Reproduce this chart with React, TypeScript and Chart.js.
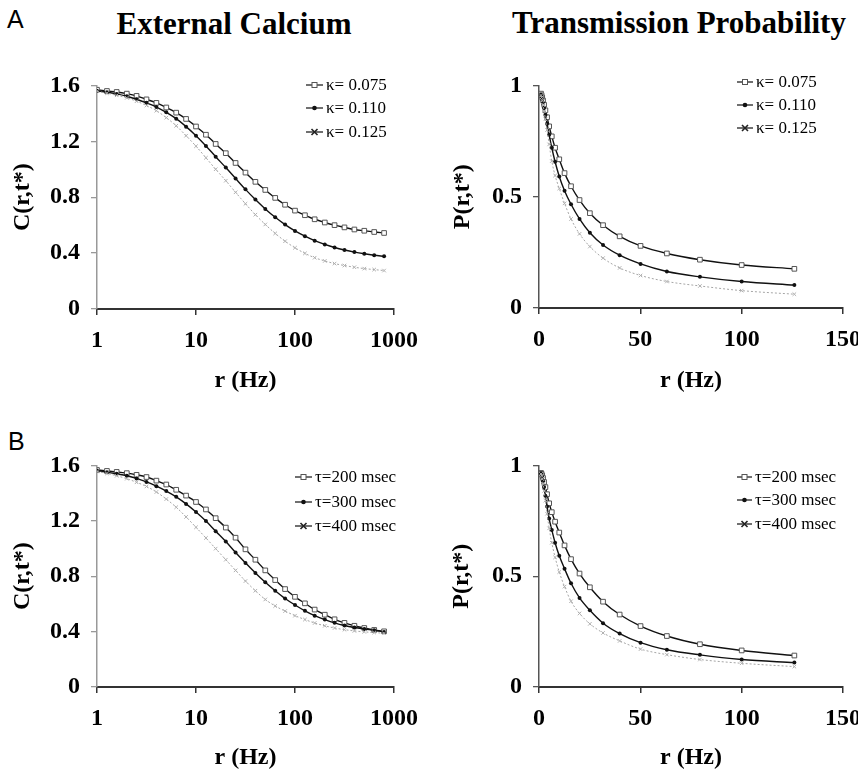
import React, { useEffect, useRef } from 'react';
import { Chart, registerables } from 'chart.js';

Chart.register(...registerables);

// ---------------- data ----------------
const rLog = [1, 1.26, 1.58, 2, 2.51, 3.16, 3.98, 5.01, 6.31, 7.94, 10, 12.6, 15.8, 20, 25.1, 31.6, 39.8, 50.1, 63.1, 79.4, 100, 126, 158, 200, 251, 316, 398, 501, 631, 794];
const rLin = [1, 1.26, 1.58, 2, 2.51, 3.16, 3.98, 5.01, 6.31, 7.94, 10, 12.6, 15.8, 20, 25.1, 31.6, 39.8, 50.1, 63.1, 79.4, 100, 126];

const calcKappa075 = [1.569, 1.560, 1.553, 1.541, 1.525, 1.500, 1.475, 1.442, 1.405, 1.360, 1.306, 1.247, 1.181, 1.115, 1.045, 0.976, 0.910, 0.852, 0.795, 0.746, 0.704, 0.671, 0.642, 0.619, 0.600, 0.584, 0.569, 0.560, 0.551, 0.544];
const calcKappa110 = [1.562, 1.551, 1.539, 1.522, 1.501, 1.475, 1.445, 1.407, 1.362, 1.305, 1.240, 1.167, 1.090, 1.012, 0.934, 0.856, 0.783, 0.716, 0.656, 0.604, 0.559, 0.521, 0.489, 0.462, 0.440, 0.422, 0.407, 0.395, 0.385, 0.377];
const calcKappa125 = [1.558, 1.544, 1.529, 1.511, 1.487, 1.456, 1.419, 1.369, 1.311, 1.240, 1.165, 1.082, 1.000, 0.918, 0.835, 0.753, 0.675, 0.605, 0.541, 0.485, 0.438, 0.398, 0.367, 0.344, 0.325, 0.311, 0.299, 0.289, 0.282, 0.275];

const probKappa075 = [0.963, 0.956, 0.946, 0.932, 0.913, 0.888, 0.857, 0.816, 0.771, 0.720, 0.668, 0.606, 0.547, 0.485, 0.426, 0.372, 0.322, 0.279, 0.245, 0.217, 0.193, 0.176];
const probKappa110 = [0.958, 0.950, 0.938, 0.921, 0.898, 0.867, 0.828, 0.778, 0.720, 0.657, 0.591, 0.527, 0.466, 0.400, 0.338, 0.283, 0.237, 0.198, 0.164, 0.140, 0.119, 0.103];
const probKappa125 = [0.955, 0.946, 0.932, 0.912, 0.885, 0.848, 0.800, 0.735, 0.660, 0.595, 0.537, 0.470, 0.400, 0.333, 0.276, 0.224, 0.180, 0.146, 0.119, 0.099, 0.078, 0.062];

const calcTau200 = [1.567, 1.560, 1.553, 1.544, 1.532, 1.516, 1.490, 1.462, 1.424, 1.382, 1.336, 1.282, 1.219, 1.151, 1.078, 0.994, 0.919, 0.842, 0.772, 0.707, 0.651, 0.604, 0.559, 0.522, 0.489, 0.463, 0.442, 0.426, 0.412, 0.402];
const calcTau300 = [1.563, 1.551, 1.539, 1.525, 1.506, 1.481, 1.450, 1.415, 1.373, 1.322, 1.263, 1.198, 1.125, 1.050, 0.971, 0.896, 0.823, 0.756, 0.695, 0.639, 0.592, 0.550, 0.515, 0.487, 0.463, 0.444, 0.430, 0.419, 0.409, 0.398];
const calcTau400 = [1.556, 1.542, 1.525, 1.504, 1.478, 1.448, 1.408, 1.357, 1.298, 1.228, 1.153, 1.076, 0.999, 0.919, 0.842, 0.765, 0.695, 0.632, 0.585, 0.548, 0.515, 0.487, 0.462, 0.442, 0.426, 0.414, 0.405, 0.398, 0.393, 0.388];

const probTau200 = [0.966, 0.962, 0.955, 0.943, 0.925, 0.902, 0.870, 0.829, 0.789, 0.746, 0.697, 0.639, 0.577, 0.512, 0.450, 0.385, 0.327, 0.275, 0.230, 0.193, 0.165, 0.142];
const probTau300 = [0.963, 0.958, 0.946, 0.928, 0.902, 0.863, 0.814, 0.760, 0.709, 0.651, 0.592, 0.534, 0.468, 0.402, 0.346, 0.288, 0.241, 0.200, 0.168, 0.145, 0.124, 0.110];
const probTau400 = [0.961, 0.953, 0.939, 0.917, 0.885, 0.841, 0.782, 0.716, 0.651, 0.585, 0.519, 0.453, 0.387, 0.332, 0.285, 0.244, 0.208, 0.171, 0.146, 0.124, 0.107, 0.092];

const legendKappa = ['\u03BA= 0.075', '\u03BA= 0.110', '\u03BA= 0.125'];
const legendTau = ['\u03C4=200 msec', '\u03C4=300 msec', '\u03C4=400 msec'];

const xLogTicks = [1, 10, 100, 1000];
const xLogTickLabels = ['1', '10', '100', '1000'];
const xLinTicks = [0, 50, 100, 150];
const xLinTickLabels = ['0', '50', '100', '150'];
const yCalcTicks = [0, 0.4, 0.8, 1.2, 1.6];
const yCalcTickLabels = ['0', '0.4', '0.8', '1.2', '1.6'];
const yProbTicks = [0, 0.5, 1];
const yProbTickLabels = ['0', '0.5', '1'];

// ---------------- styles ----------------
const SERIF = "'Liberation Serif', 'Times New Roman', Times, serif";

const seriesStyles = [
  { borderColor: '#111', borderWidth: 1.4, borderDash: [] as number[], pointStyle: 'rect', pointRadius: 3.3, pointBackgroundColor: '#fff', pointBorderColor: '#555', pointBorderWidth: 1 },
  { borderColor: '#111', borderWidth: 1.4, borderDash: [] as number[], pointStyle: 'circle', pointRadius: 2, pointBackgroundColor: '#111', pointBorderColor: '#111', pointBorderWidth: 0 },
  { borderColor: '#a5a5a5', borderWidth: 1, borderDash: [2, 2], pointStyle: 'crossRot', pointRadius: 2.5, pointBackgroundColor: '#aaa', pointBorderColor: '#b0b0b0', pointBorderWidth: 1 },
];

type PanelProps = {
  left: number; top: number; width: number; height: number;
  plotL: number; plotT: number; plotR: number; plotB: number;
  logX: boolean;
  xs: number[];
  series: number[][];
  labels: string[];
  xTicks: number[]; xTickLabels: string[]; xMin: number; xMax: number;
  yTicks: number[]; yTickLabels: string[]; yMax: number;
  yTitle: string;
  yTitleX: number;
  xTitleY: number;
  legendX: number; legendYs: number[]; legendLen: number;
  yAxisColor: string;
};

function Panel(p: PanelProps) {
  const ref = useRef<HTMLCanvasElement | null>(null);
  useEffect(() => {
    let chart: Chart | null = null;
    let cancelled = false;

    const legendPlugin = {
      id: 'lineLegend',
      afterDraw(c: any) {
        const ctx = c.ctx as CanvasRenderingContext2D;
        ctx.save();
        p.labels.forEach((label, i) => {
          const x = p.legendX - p.left;
          const y = p.legendYs[i] - p.top;
          ctx.setLineDash([]);
          ctx.strokeStyle = '#222';
          ctx.lineWidth = 1.3;
          ctx.beginPath();
          ctx.moveTo(x, y);
          ctx.lineTo(x + p.legendLen, y);
          ctx.stroke();
          const cx = x + p.legendLen / 2;
          if (i === 0) {
            ctx.fillStyle = '#fff';
            ctx.strokeStyle = '#555';
            ctx.lineWidth = 1;
            ctx.fillRect(cx - 2.5, y - 2.5, 5, 5);
            ctx.strokeRect(cx - 2.5, y - 2.5, 5, 5);
          } else if (i === 1) {
            ctx.fillStyle = '#111';
            ctx.beginPath();
            ctx.arc(cx, y, 2.3, 0, Math.PI * 2);
            ctx.fill();
          } else {
            ctx.strokeStyle = '#222';
            ctx.lineWidth = 1.6;
            ctx.beginPath();
            ctx.moveTo(cx - 3, y - 3); ctx.lineTo(cx + 3, y + 3);
            ctx.moveTo(cx - 3, y + 3); ctx.lineTo(cx + 3, y - 3);
            ctx.stroke();
          }
          ctx.fillStyle = '#000';
          ctx.font = `17px ${SERIF}`;
          ctx.textAlign = 'left';
          ctx.textBaseline = 'middle';
          ctx.fillText(label, x + p.legendLen + 3, y + 1);
        });
        ctx.restore();
      },
    };

    const tickFont = { family: SERIF, size: 24, weight: 'bold' as const, lineHeight: 1.2 };
    const titleFont = { family: SERIF, size: 24, weight: 'bold' as const, lineHeight: 1 };

    const make = () => {
      if (cancelled || !ref.current || chart) return;
      chart = new Chart(ref.current, {
        type: 'line',
        data: {
          datasets: p.series.map((vals, si) => ({
            label: p.labels[si],
            data: p.xs.map((x, i) => ({ x, y: vals[i] })),
            ...seriesStyles[si],
            fill: false,
            tension: 0,
            cubicInterpolationMode: 'monotone' as const,
            order: 3 - si,
          })) as any,
        },
        options: {
          animation: false,
          responsive: false,
          maintainAspectRatio: false,
          layout: { padding: { left: 0, top: p.plotT - p.top, right: p.left + p.width - p.plotR, bottom: 0 } },
          plugins: { legend: { display: false }, tooltip: { enabled: false } },
          scales: {
            x: {
              type: p.logX ? 'logarithmic' : 'linear',
              min: p.xMin,
              max: p.xMax,
              afterBuildTicks: (s: any) => { s.ticks = p.xTicks.map((v) => ({ value: v })); },
              afterFit: (s: any) => { s.height = p.top + p.height - p.plotB; },
              ticks: {
                autoSkip: false,
                maxRotation: 0,
                padding: 11,
                color: '#000',
                font: tickFont,
                callback: (v: any) => { const k = p.xTicks.indexOf(Number(v)); return k >= 0 ? p.xTickLabels[k] : ''; },
              },
              grid: { display: true, drawOnChartArea: false, drawTicks: true, tickLength: 6, color: '#333', lineWidth: 1.5 },
              border: { display: true, color: '#333', width: 2 },
              title: { display: true, text: 'r (Hz)', color: '#000', font: titleFont, padding: { top: 0, bottom: p.top + p.height - p.xTitleY - 12 } },
            } as any,
            y: {
              type: 'linear',
              min: 0,
              max: p.yMax,
              afterBuildTicks: (s: any) => { s.ticks = p.yTicks.map((v) => ({ value: v })); },
              afterFit: (s: any) => { s.width = p.plotL - p.left; },
              ticks: {
                padding: 11,
                color: '#000',
                font: tickFont,
                callback: (v: any) => { const k = p.yTicks.indexOf(Number(v)); return k >= 0 ? p.yTickLabels[k] : ''; },
              },
              grid: { display: true, drawOnChartArea: false, drawTicks: true, tickLength: 6, color: p.yAxisColor, lineWidth: 1.3 },
              border: { display: true, color: p.yAxisColor, width: 1.5 },
              title: { display: true, text: p.yTitle, color: '#000', font: titleFont, padding: { top: p.yTitleX - p.left - 12, bottom: 0 } },
            } as any,
          },
        },
        plugins: [legendPlugin],
      });
    };

    const fonts: any = (document as any).fonts;
    if (fonts && fonts.load) {
      Promise.all([
        fonts.load(`bold 24px 'Liberation Serif'`),
        fonts.load(`17px 'Liberation Serif'`),
      ]).then(make, make);
    } else {
      make();
    }
    return () => {
      cancelled = true;
      if (chart) chart.destroy();
    };
  }, []);
  return (
    <canvas
      ref={ref}
      width={p.width}
      height={p.height}
      style={{ position: 'absolute', left: p.left, top: p.top, width: p.width, height: p.height }}
    />
  );
}

const labelStyle: React.CSSProperties = {
  position: 'absolute',
  fontFamily: "'Liberation Sans', Arial, sans-serif",
  fontSize: 25,
  lineHeight: '25px',
  color: '#000',
};

const titleStyle: React.CSSProperties = {
  position: 'absolute',
  width: 600,
  textAlign: 'center',
  whiteSpace: 'nowrap',
  fontFamily: SERIF,
  fontWeight: 'bold',
  fontSize: 31,
  lineHeight: '31px',
  color: '#000',
};

export default function App() {
  return (
    <div style={{ position: 'absolute', left: 0, top: 0, width: 858, height: 773, overflow: 'hidden', background: '#fff' }}>
      <div style={{ ...labelStyle, left: 7, top: 7 }}>A</div>
      <div style={{ ...labelStyle, left: 8, top: 429 }}>B</div>
      <div style={{ ...titleStyle, left: 234 - 300, top: 8 }}>External Calcium</div>
      <div style={{ ...titleStyle, left: 679 - 300, top: 7 }}>Transmission Probability</div>

      <Panel
        left={0} top={60} width={429} height={340}
        plotL={97} plotT={81} plotR={394} plotB={309}
        logX={true} xs={rLog}
        series={[calcKappa075, calcKappa110, calcKappa125]} labels={legendKappa}
        xTicks={xLogTicks} xTickLabels={xLogTickLabels} xMin={1} xMax={1000}
        yTicks={yCalcTicks} yTickLabels={yCalcTickLabels} yMax={1.6}
        yTitle="C(r,t*)" yTitleX={23} xTitleY={381}
        legendX={306} legendYs={[85, 108, 132]} legendLen={17}
        yAxisColor="#999"
      />
      <Panel
        left={430} top={60} width={470} height={340}
        plotL={539} plotT={82} plotR={843} plotB={308}
        logX={false} xs={rLin}
        series={[probKappa075, probKappa110, probKappa125]} labels={legendKappa}
        xTicks={xLinTicks} xTickLabels={xLinTickLabels} xMin={0} xMax={150}
        yTicks={yProbTicks} yTickLabels={yProbTickLabels} yMax={1}
        yTitle="P(r,t*)" yTitleX={463} xTitleY={381}
        legendX={737} legendYs={[82, 105, 128]} legendLen={16}
        yAxisColor="#555"
      />
      <Panel
        left={0} top={440} width={429} height={333}
        plotL={97} plotT={459} plotR={394} plotB={687}
        logX={true} xs={rLog}
        series={[calcTau200, calcTau300, calcTau400]} labels={legendTau}
        xTicks={xLogTicks} xTickLabels={xLogTickLabels} xMin={1} xMax={1000}
        yTicks={yCalcTicks} yTickLabels={yCalcTickLabels} yMax={1.6}
        yTitle="C(r,t*)" yTitleX={23} xTitleY={758}
        legendX={295} legendYs={[477, 502, 526]} legendLen={17}
        yAxisColor="#999"
      />
      <Panel
        left={430} top={440} width={470} height={333}
        plotL={539} plotT={459} plotR={843} plotB={687}
        logX={false} xs={rLin}
        series={[probTau200, probTau300, probTau400]} labels={legendTau}
        xTicks={xLinTicks} xTickLabels={xLinTickLabels} xMin={0} xMax={150}
        yTicks={yProbTicks} yTickLabels={yProbTickLabels} yMax={1}
        yTitle="P(r,t*)" yTitleX={462} xTitleY={758}
        legendX={737} legendYs={[477, 500, 524]} legendLen={15}
        yAxisColor="#555"
      />
    </div>
  );
}
